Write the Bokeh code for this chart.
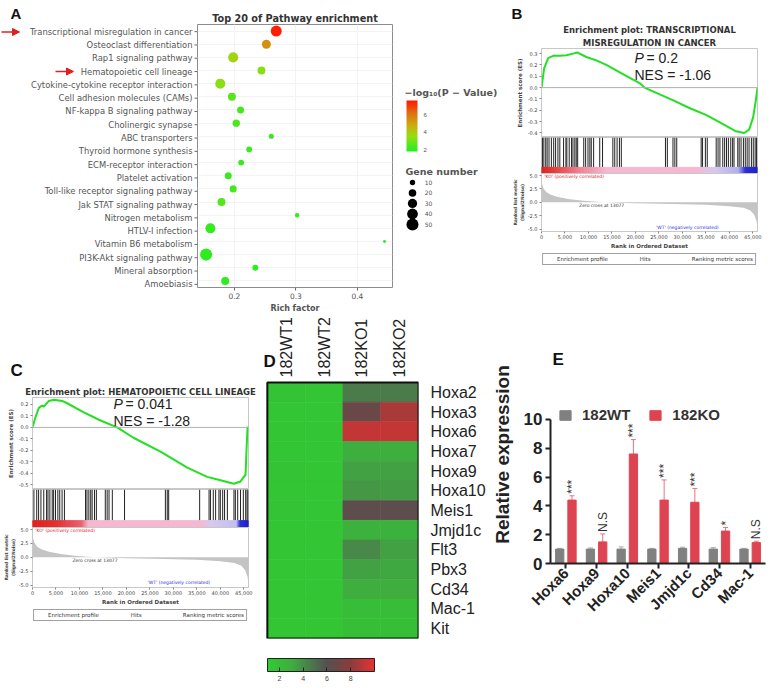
import math
from bokeh.plotting import figure
from bokeh.layouts import row, column
from bokeh.models import (ColumnDataSource, Range1d, FactorRange, LinearColorMapper, ColorBar,
                          FixedTicker, Label, Arrow, NormalHead, Legend, LegendItem, Whisker, Span,
                          NumeralTickFormatter, TeeHead, Title)
from bokeh.transform import dodge
from bokeh.core.properties import value
from bokeh.embed import file_html
from bokeh.resources import INLINE

# ---------------- Panel A data ----------------
pathways = ["Transcriptional misregulation in cancer", "Osteoclast differentiation", "Rap1 signaling pathway",
            "Hematopoietic cell lineage", "Cytokine-cytokine receptor interaction", "Cell adhesion molecules (CAMs)",
            "NF-kappa B signaling pathway", "Cholinergic synapse", "ABC transporters", "Thyroid hormone synthesis",
            "ECM-receptor interaction", "Platelet activation", "Toll-like receptor signaling pathway",
            "Jak STAT signaling pathway", "Nitrogen metabolism", "HTLV-I infection", "Vitamin B6 metabolism",
            "PI3K-Akt signaling pathway", "Mineral absorption", "Amoebiasis"]
rich_factor = [0.268, 0.252, 0.198, 0.244, 0.177, 0.196, 0.210, 0.203, 0.260, 0.224,
               0.211, 0.190, 0.198, 0.179, 0.302, 0.161, 0.444, 0.154, 0.234, 0.185]
neg_log10_p = [7.5, 5.4, 3.8, 3.3, 3.3, 2.6, 2.3, 2.4, 2.2, 2.2,
               2.2, 2.2, 2.3, 2.5, 2.0, 2.1, 2.0, 2.0, 2.0, 2.0]
gene_number = [42, 28, 35, 22, 35, 22, 17, 19, 9, 12, 12, 17, 17, 22, 7, 35, 3, 50, 12, 22]
gene_legend = [10, 20, 30, 40, 50]
pval_ticks = [2, 4, 6]
rich_ticks = [0.2, 0.3, 0.4]

# ---------------- GSEA data (panel B) ----------------
B_es_rank = [0, 566, 1415, 2477, 3892, 5308, 6723, 7572, 9554, 11677, 13800, 17339, 20877, 21940,
             27950, 31490, 35030, 38570, 41400, 43170, 44230, 45080, 45650, 46000]
B_es_val = [0.0, 0.17, 0.26, 0.28, 0.28, 0.285, 0.30, 0.31, 0.27, 0.24, 0.20, 0.12, 0.04, 0.0,
            -0.11, -0.18, -0.24, -0.32, -0.385, -0.40, -0.37, -0.26, -0.11, 0.0]
B_hits = [200, 500, 900, 1200, 1600, 2100, 2600, 3000, 3500, 3900, 4700, 5200, 5400, 5900, 6400, 6700,
          7100, 7400, 7700, 9000, 9400, 9900, 10300, 10600, 11100, 12400, 13000, 15200, 15600, 16100,
          16600, 17000, 26400, 26800, 28000, 28400, 28800, 34000, 34300, 34900, 35300, 37200, 37600,
          38000, 38600, 39000, 39400, 39800, 40300, 40700, 41000, 41800, 42100, 42500, 43000, 43400,
          43800, 44200, 44700, 45100, 45500, 45800]
B_band_rank = [0, 3000, 8000, 14000, 33000, 37000, 42000, 43500, 46000]
B_band_col = ["#e01e1e", "#e84040", "#f08090", "#f5b8d0", "#f5b8d0", "#d8c8f0", "#b0b0f0", "#3030d8", "#2020c8"]
B_title = ["Enrichment plot: TRANSCRIPTIONAL", "MISREGULATION IN CANCER"]
B_p = "= 0.2"
B_nes = "NES = -1.06"

# ---------------- GSEA data (panel C) ----------------
C_es_rank = [0, 640, 1350, 2060, 2420, 3480, 4540, 6320, 7380, 10930, 14480, 18030, 21500, 27260,
             32960, 37200, 40040, 42880, 44300, 45370, 45580, 45800, 46000]
C_es_val = [0.0, 0.09, 0.17, 0.19, 0.18, 0.23, 0.24, 0.23, 0.21, 0.13, 0.06, 0.0, -0.09, -0.21,
            -0.35, -0.43, -0.46, -0.49, -0.47, -0.41, -0.19, 0.0, 0.0]
C_hits = [300, 900, 1300, 1800, 2400, 3000, 3300, 3700, 4200, 4500, 4900, 5400, 5800, 6300, 6800,
          11300, 11600, 12000, 12400, 12700, 13200, 13600, 15500, 15900, 16300, 17000, 19600, 28300,
          28700, 29000, 35600, 37600, 37900, 38500, 39000, 39700, 40000, 40500, 40900, 41500, 42900,
          43200, 43700, 44300, 44900, 45400, 45700, 45900]
C_band_rank = [0, 5000, 10500, 12000, 36000, 38000, 43500, 44300, 46000]
C_band_col = ["#e01e1e", "#e43030", "#ec6070", "#f5b8d0", "#f5b8d0", "#d8c8f0", "#c0c0f0", "#3030d8", "#2020c8"]
C_title = ["Enrichment plot: HEMATOPOIETIC CELL LINEAGE"]
C_p = "= 0.041"
C_nes = "NES = -1.28"

# ranked list metric (shared shape)
metric_rank = [0, 100, 400, 1000, 2000, 3500, 6000, 9000, 13077, 20000, 28000, 35000, 40000, 43000,
               44500, 45300, 45800, 46000]
metric_val = [4.6, 3.5, 2.6, 1.9, 1.4, 1.0, 0.6, 0.3, 0.0, -0.15, -0.3, -0.45, -0.7, -1.0,
              -1.5, -2.3, -3.5, -4.8]
rank_ticks = [0, 5000, 10000, 15000, 20000, 25000, 30000, 35000, 40000, 45000]
metric_ticks = [-5, -2.5, 0, 2.5, 5]

# ---------------- Panel D data ----------------
heat_genes = ["Hoxa2", "Hoxa3", "Hoxa6", "Hoxa7", "Hoxa9", "Hoxa10", "Meis1", "Jmjd1c", "Flt3", "Pbx3",
              "Cd34", "Mac-1", "Kit"]
samples = ["182WT1", "182WT2", "182KO1", "182KO2"]
WT1 = [1.6, 1.5, 1.5, 1.5, 1.6, 1.5, 1.6, 1.5, 1.5, 1.5, 1.5, 1.5, 1.5]
WT2 = [1.5, 1.5, 1.5, 1.5, 1.5, 1.5, 1.5, 1.5, 1.5, 1.5, 1.5, 1.5, 1.5]
KO1 = [4.6, 6.8, 9.2, 2.9, 3.4, 3.8, 6.3, 2.8, 4.2, 3.4, 3.0, 2.0, 1.9]
KO2 = [4.6, 8.6, 9.2, 2.9, 3.4, 3.6, 6.3, 2.8, 3.4, 3.2, 3.0, 2.0, 1.9]
heat_ticks = [2, 4, 6, 8]

# ---------------- Panel E data ----------------
genes_e = ["Hoxa6", "Hoxa9", "Hoxa10", "Meis1", "Jmjd1c", "Cd34", "Mac-1"]
wt_mean = [1.0, 1.0, 1.0, 1.0, 1.05, 1.0, 1.0]
wt_err = [0.05, 0.08, 0.15, 0.05, 0.08, 0.1, 0.05]
ko_mean = [4.4, 1.5, 7.6, 4.4, 4.25, 2.25, 1.45]
ko_err = [0.3, 0.55, 1.0, 1.4, 0.95, 0.25, 0.1]
sig = ["***", "N.S", "***", "***", "***", "*", "N.S"]
expr_ticks = [0, 2, 4, 6, 8, 10]


# ---------------- helpers ----------------
def hex2rgb(h):
    h = h.lstrip('#')
    return tuple(int(h[i:i + 2], 16) for i in (0, 2, 4))


def mix(c0, c1, f):
    a, b = hex2rgb(c0), hex2rgb(c1)
    return '#%02x%02x%02x' % tuple(round(a[k] + (b[k] - a[k]) * f) for k in range(3))


def make_palette(stops, n=128):
    out = []
    for i in range(n):
        t = i / (n - 1)
        for (p0, c0), (p1, c1) in zip(stops[:-1], stops[1:]):
            if p0 <= t <= p1:
                out.append(mix(c0, c1, (t - p0) / (p1 - p0)))
                break
    return out


SMALL = "DejaVu Sans"
ARIAL = "Liberation Sans"


def screen_label(p, text, x, y, size, style="bold", font=ARIAL, color="#111", align="left"):
    p.add_layout(Label(x=x, y=y, x_units="screen", y_units="screen", text=text, text_font=font,
                       text_font_size=size, text_font_style=style, text_color=color,
                       text_baseline="middle", text_align=align))


def style_small_axis(a):
    a.major_label_text_font_size = "5px"
    a.major_label_text_font = SMALL
    a.major_label_text_color = "#444"
    a.axis_label_text_font_size = "5.5px"
    a.axis_label_text_font = SMALL
    a.axis_label_text_font_style = "bold"
    a.axis_label_text_color = "#444"
    a.axis_label_standoff = 2
    a.major_label_standoff = 2
    a.major_tick_out = 2
    a.major_tick_in = 0
    a.minor_tick_out = 0
    a.minor_tick_in = 0
    a.axis_line_color = "#c8c8c8"
    a.major_tick_line_color = "#888"


def gsea(es_rank, es_val, hits, band_rank, band_col, es_lo, es_hi, es_ticks, width, left, right,
         es_top, es_h, hits_h, band_frac, m_h, m_bottom, texts, titles, letter_txt, letter_off,
         letter_size, letter_standoff):
    xr = Range1d(0, 46000)
    common = dict(output_backend="svg", toolbar_location=None, min_border_left=left,
                  min_border_right=right, x_range=xr)
    pe = figure(width=width, height=es_top + es_h, y_range=Range1d(es_lo, es_hi), x_axis_location=None,
                min_border_top=es_top, min_border_bottom=0, **common)
    pe.grid.visible = False
    pe.outline_line_color = "#c8c8c8"
    pe.add_layout(Span(location=0, dimension="width", line_color="#b0b0b0", line_width=1))
    pe.line(es_rank, es_val, line_color="#22e022", line_width=2)
    ya = pe.yaxis[0]
    ya.ticker = FixedTicker(ticks=es_ticks)
    ya.formatter = NumeralTickFormatter(format="0.0")
    ya.axis_label = "Enrichment score (ES)"
    style_small_axis(ya)
    for t in reversed(titles):
        pe.add_layout(Title(text=t, align="center", text_font=SMALL, text_font_size="8.5px",
                            text_font_style="bold", text_color="#333", standoff=1), "above")
    pe.add_layout(Title(text=letter_txt, align="left", offset=letter_off, text_font=ARIAL,
                        text_font_size=letter_size, text_font_style="bold", text_color="#111",
                        standoff=letter_standoff), "above")

    ph = figure(width=width, height=hits_h, y_range=Range1d(0, 1), x_axis_location=None,
                y_axis_location=None, min_border_top=0, min_border_bottom=0, **common)
    ph.grid.visible = False
    ph.outline_line_color = "#c8c8c8"
    ph.segment(x0=hits, y0=band_frac, x1=hits, y1=1, line_color="#222", line_width=1)
    lefts, rights, cols = [], [], []
    for (r0, c0), (r1, c1) in zip(zip(band_rank[:-1], band_col[:-1]), zip(band_rank[1:], band_col[1:])):
        k = 10
        for i in range(k):
            lefts.append(r0 + (r1 - r0) * i / k)
            rights.append(r0 + (r1 - r0) * (i + 1) / k)
            cols.append(mix(c0, c1, (i + 0.5) / k))
    ph.quad(left=lefts, right=rights, bottom=0, top=band_frac, fill_color=cols, line_color=cols)

    pm = figure(width=width, height=m_h + m_bottom, y_range=Range1d(-5.4, 5.35),
                min_border_top=0, min_border_bottom=m_bottom, **common)
    pm.grid.visible = False
    pm.outline_line_color = "#c8c8c8"
    pm.varea(x=metric_rank, y1=0, y2=metric_val, fill_color="#c4c4c4")
    pm.yaxis.ticker = FixedTicker(ticks=metric_ticks)
    pm.yaxis.formatter = NumeralTickFormatter(format="0.0")
    pm.xaxis.ticker = FixedTicker(ticks=rank_ticks)
    pm.xaxis.formatter = NumeralTickFormatter(format="0,0")
    pm.xaxis.axis_label = "Rank in Ordered Dataset"
    for a in list(pm.yaxis) + list(pm.xaxis):
        style_small_axis(a)
    pm.xaxis.axis_label_standoff = 1
    pm.xaxis.major_label_standoff = 1
    for t in ["(Signal2Noise)", "Ranked list metric"]:
        pm.add_layout(Title(text=t, align="center", text_font=SMALL, text_font_size="4.5px",
                            text_font_style="bold", text_color="#444", standoff=0), "left")
    pm.add_layout(Label(x=texts["pos"][0], y=texts["pos"][1], text="'KO' (positively correlated)",
                        text_color="#e02020", text_font_size="4.5px", text_font=SMALL,
                        text_baseline="middle"))
    pm.add_layout(Label(x=texts["zero"][0], y=texts["zero"][1], text="Zero cross at 13077",
                        text_color="#333", text_font_size="4.5px", text_font=SMALL,
                        text_baseline="middle"))
    pm.add_layout(Label(x=texts["neg"][0], y=texts["neg"][1], text="'WT' (negatively correlated)",
                        text_color="#3030e0", text_font_size="4.5px", text_font=SMALL,
                        text_baseline="middle"))

    pl = figure(width=width, height=16, y_range=Range1d(0, 1), x_axis_location=None,
                y_axis_location=None, min_border_top=0, min_border_bottom=0, **common)
    pl.grid.visible = False
    pl.outline_line_color = None
    r1 = pl.line(x=[], y=[], line_color="#22e022", line_width=2)
    r2 = pl.line(x=[], y=[], line_color="#222", line_width=1)
    r3 = pl.varea(x=[], y1=[], y2=[], fill_color="#c4c4c4")
    leg = Legend(items=[LegendItem(label="Enrichment profile", renderers=[r1]),
                        LegendItem(label="Hits", renderers=[r2]),
                        LegendItem(label="Ranking metric scores", renderers=[r3])],
                 orientation="horizontal", location="center", label_text_font_size="5.5px",
                 label_text_font=SMALL, label_text_color="#333", glyph_width=10, glyph_height=6,
                 label_height=6, padding=2, spacing=20, margin=0, border_line_color="#444",
                 label_standoff=2)
    pl.add_layout(leg)
    return column(pe, ph, pm, pl), pe


def stat_text(p, ptxt, nes, x, y1, y2):
    screen_label(p, "P", x, y1, "14px", "italic", color="#222")
    screen_label(p, ptxt, x + 12, y1, "14px", "normal", color="#222")
    screen_label(p, nes, x, y2, "14px", "normal", color="#222")


# ================= Panel A =================
srcA = ColumnDataSource(dict(path=pathways, rf=rich_factor, lp=neg_log10_p, gn=gene_number,
                             sz=[1.7 * math.sqrt(g) for g in gene_number]))
cmapA = LinearColorMapper(palette=make_palette([(0, "#22ee22"), (0.3, "#99dd11"), (0.5, "#c8b010"),
                                                (0.75, "#e07010"), (1, "#ff1a00")]), low=1.8, high=7.6)

# label strip: category names + tick marks, panel letter and arrows
pA0 = figure(width=197, height=315, x_range=Range1d(0, 197),
             y_range=FactorRange(factors=pathways[::-1], range_padding=1.842, range_padding_units="absolute"),
             x_axis_location=None, y_axis_location=None, output_backend="svg", toolbar_location=None,
             min_border=0)
pA0.outline_line_color = None
pA0.grid.visible = False
pA0.text(x=192, y='path', text='path', source=srcA, text_font=value(SMALL), text_font_size="8.4px",
         text_color="#555", text_align="right", text_baseline="middle")
pA0.segment(x0=194, y0='path', x1=197, y1='path', source=srcA, line_color="#666", line_width=1)
screen_label(pA0, "A", 10, 302, "15px")
pA0.add_layout(Arrow(x_start=1, y_start=283.5, x_end=19, y_end=283.5, start_units="screen",
                     end_units="screen", line_color="#e02020", line_width=1.5,
                     end=NormalHead(size=7, fill_color="#e02020", line_color="#e02020")))
pA0.add_layout(Arrow(x_start=55, y_start=244, x_end=73, y_end=244, start_units="screen",
                     end_units="screen", line_color="#e02020", line_width=1.5,
                     end=NormalHead(size=7, fill_color="#e02020", line_color="#e02020")))

pA = figure(width=203, height=315, x_range=Range1d(0.14, 0.457), y_range=FactorRange(factors=pathways[::-1]),
            y_axis_location=None, output_backend="svg", toolbar_location=None, min_border_left=0,
            min_border_right=8, min_border_top=24, min_border_bottom=25, title="Top 20 of Pathway enrichment")
pA.title.align = "center"
pA.title.text_font = SMALL
pA.title.text_font_size = "9.7px"
pA.title.text_color = "#333"
pA.title.standoff = 2
pA.scatter('rf', 'path', size='sz', source=srcA, fill_color={'field': 'lp', 'transform': cmapA},
           line_color=None)
pA.grid.grid_line_color = "#f3f3f3"
pA.outline_line_color = "#8c8c8c"
pA.xaxis.ticker = FixedTicker(ticks=rich_ticks)
pA.xaxis.axis_label = "Rich factor"
for a in pA.xaxis:
    a.major_label_text_font = SMALL
    a.major_label_text_font_size = "7.5px"
    a.major_label_text_color = "#555"
    a.axis_line_color = None
    a.major_tick_out = 3
    a.major_tick_in = 0
    a.minor_tick_out = 0
    a.minor_tick_in = 0
    a.major_tick_line_color = "#666"
    a.major_label_standoff = 2
    a.axis_label_text_font = SMALL
    a.axis_label_text_font_size = "8px"
    a.axis_label_text_font_style = "bold"
    a.axis_label_text_color = "#555"
    a.axis_label_standoff = 2

# legend figure for A
pAL = figure(width=110, height=315, x_range=Range1d(0, 1), y_range=Range1d(136.7, -163.3),
             x_axis_location=None, y_axis_location=None, output_backend="svg", toolbar_location=None,
             min_border=0)
pAL.outline_line_color = None
pAL.grid.visible = False
srcL = ColumnDataSource(dict(gn=gene_legend, sz=[1.7 * math.sqrt(g) for g in gene_legend],
                             lbl=[str(g) for g in gene_legend]))
pAL.scatter(x=0.109, y='gn', size='sz', source=srcL, fill_color="black", line_color=None)
pAL.text(x=0.22, y='gn', text='lbl', source=srcL, text_font=value(SMALL), text_font_size="6px",
         text_color="#555", text_baseline="middle")
screen_label(pAL, "Gene number", 5, 144, "9.5px", font=SMALL, color="#555")
screen_label(pAL, "\u2212log\u2081\u2080(P \u2212 Value)", 4, 223, "9.5px", font=SMALL, color="#555")
cbA = ColorBar(color_mapper=cmapA, location=(6, 164), width=11, height=51, orientation="vertical",
               ticker=FixedTicker(ticks=pval_ticks), padding=0, major_label_text_font_size="6px",
               major_label_text_color="#555", major_tick_line_color=None, bar_line_color=None,
               label_standoff=6, background_fill_alpha=0)
pAL.add_layout(cbA)

# ================= Panel B =================
colB, pBe = gsea(B_es_rank, B_es_val, B_hits, B_band_rank, B_band_col, -0.44, 0.345,
                 [-0.4, -0.3, -0.2, -0.1, 0.0, 0.1, 0.2, 0.3], 263, 30, 16, 48, 89, 36, 0.17, 60, 18,
                 {"pos": (600, 4.8), "zero": (8000, -0.6), "neg": (24400, -4.7)}, B_title,
                 "B", -30, "15px", 1)
stat_text(pBe, B_p, B_nes, 93, 80, 63)

# ================= Panel C =================
colC, pCe = gsea(C_es_rank, C_es_val, C_hits, C_band_rank, C_band_col, -0.54, 0.26,
                 [-0.5, -0.4, -0.3, -0.2, -0.1, 0.0, 0.1, 0.2], 262, 32, 14, 82, 92, 38, 0.18, 63, 17,
                 {"pos": (600, 4.8), "zero": (8500, -0.6), "neg": (24500, -4.5)}, C_title,
                 "C", -22, "17px", 9)
stat_text(pCe, C_p, C_nes, 81, 86, 69)

# ================= Panel D =================
n_s, n_g = len(samples), len(heat_genes)
hx, hy, hv = [], [], []
for gi, g in enumerate(heat_genes):
    for si, vals in enumerate([WT1, WT2, KO1, KO2]):
        hx.append(si + 0.5)
        hy.append(n_g - gi - 0.5)
        hv.append(vals[gi])
cmapD = LinearColorMapper(palette=make_palette([(0, "#30cc30"), (2 / 9, "#3fae3f"), (4 / 9, "#4e6e4e"),
                                                (5 / 9, "#555050"), (7 / 9, "#8c3c3c"), (1, "#e83232")]),
                          low=1, high=10)
pD = figure(width=226, height=372, x_range=Range1d(-5 / 39, n_s), y_range=Range1d(0, 16.4),
            x_axis_location=None, y_axis_location="right",
            output_backend="svg", toolbar_location=None, min_border_left=0, min_border_right=65,
            min_border_top=0, min_border_bottom=49)
pD.rect(x='x', y='y', width=1, height=1, fill_color={'field': 'v', 'transform': cmapD},
        line_color={'field': 'v', 'transform': cmapD}, line_width=0.6,
        source=ColumnDataSource(dict(x=hx, y=hy, v=hv)))
pD.quad(left=0, right=n_s, bottom=0, top=n_g, fill_color=None, line_color="#111", line_width=2)
pD.text(x=[i + 0.5 for i in range(n_s)], y=n_g, text=samples, angle=math.pi / 2, y_offset=-5,
        text_align="left", text_baseline="middle", text_font=value(ARIAL), text_font_size="16px",
        text_color="#222")
pD.grid.visible = False
pD.outline_line_color = None
ayD = pD.yaxis[0]
ayD.ticker = FixedTicker(ticks=[n_g - gi - 0.5 for gi in range(n_g)])
ayD.major_label_overrides = {n_g - gi - 0.5: g for gi, g in enumerate(heat_genes)}
ayD.axis_line_color = None
ayD.major_tick_line_color = None
ayD.minor_tick_line_color = None
ayD.major_label_text_font = ARIAL
ayD.major_label_text_font_size = "16px"
ayD.major_label_text_color = "#222"
ayD.major_label_standoff = 6
screen_label(pD, "D", 1, 277, "17px")
cbD = ColorBar(color_mapper=cmapD, location=(5, -45), width=107, height=13, orientation="horizontal",
               ticker=FixedTicker(ticks=heat_ticks), padding=0, major_label_text_font_size="7px",
               major_label_text_color="#444", major_tick_line_color="#222", major_tick_in=4,
               bar_line_color="#222", label_standoff=4, background_fill_alpha=0)
pD.add_layout(cbD)

# ================= Panel E =================
srcE = ColumnDataSource(dict(gene=genes_e, wt=wt_mean, ko=ko_mean,
                             wt_lo=[m - e for m, e in zip(wt_mean, wt_err)],
                             wt_hi=[m + e for m, e in zip(wt_mean, wt_err)],
                             ko_lo=[m - e for m, e in zip(ko_mean, ko_err)],
                             ko_hi=[m + e for m, e in zip(ko_mean, ko_err)],
                             sig=sig))
pE = figure(width=285, height=372, x_range=FactorRange(factors=genes_e, range_padding=0),
            y_range=Range1d(0, 15.13), output_backend="svg", toolbar_location=None,
            min_border_left=57, min_border_right=8, min_border_top=30, min_border_bottom=124)
pE.grid.visible = False
pE.outline_line_color = None
wt_bar = pE.vbar(x=dodge('gene', -0.2, range=pE.x_range), top='wt', width=0.27, source=srcE,
                 fill_color="#808080", line_color="#808080")
ko_bar = pE.vbar(x=dodge('gene', 0.2, range=pE.x_range), top='ko', width=0.27, source=srcE,
                 fill_color="#dc4452", line_color="#e8404e")
pE.add_layout(Whisker(base=dodge('gene', -0.2, range=pE.x_range), upper='wt_hi', lower='wt_lo', source=srcE,
                      line_color="#aaaaaa", level="underlay",
                      upper_head=TeeHead(size=5, line_color="#aaaaaa"), lower_head=None))
pE.add_layout(Whisker(base=dodge('gene', 0.2, range=pE.x_range), upper='ko_hi', lower='ko_lo', source=srcE,
                      line_color="#f07080", level="underlay",
                      upper_head=TeeHead(size=5, line_color="#f07080"), lower_head=None))
pE.text(x=dodge('gene', 0.2, range=pE.x_range), y='ko_hi', text='sig', source=srcE, angle=math.pi / 2,
        text_align="left", text_baseline="middle", text_font=value(ARIAL), text_font_size="12px",
        text_color="#333", x_offset=0, y_offset=-2)
pE.yaxis.ticker = FixedTicker(ticks=expr_ticks)
pE.yaxis.bounds = (0, 10)
pE.yaxis.axis_label = "Relative expression"
pE.xaxis.major_label_orientation = math.pi / 4
for a in list(pE.xaxis) + list(pE.yaxis):
    a.axis_line_width = 2
    a.axis_line_color = "#222"
    a.major_tick_line_width = 2
    a.major_tick_line_color = "#222"
    a.major_tick_out = 5
    a.major_tick_in = 0
    a.minor_tick_out = 0
    a.minor_tick_in = 0
    a.major_label_text_font = ARIAL
    a.major_label_text_font_style = "bold"
    a.major_label_text_color = "#222"
    a.axis_label_text_font = ARIAL
    a.axis_label_text_font_style = "bold"
    a.axis_label_text_color = "#222"
pE.yaxis.major_label_text_font_size = "17px"
pE.yaxis.axis_label_text_font_size = "19px"
pE.yaxis.axis_label_standoff = 8
pE.yaxis.major_label_standoff = 3
pE.xaxis.major_label_text_font_size = "15px"
pE.xaxis.major_label_standoff = 2
legE = Legend(items=[LegendItem(label="182WT", renderers=[wt_bar]), LegendItem(label="182KO", renderers=[ko_bar])],
              orientation="horizontal", location=(8, 140), label_text_font=ARIAL, label_text_font_size="15px",
              label_text_font_style="bold", label_text_color="#333", glyph_width=14, glyph_height=12,
              background_fill_alpha=0, border_line_color=None, padding=0, margin=0, spacing=18,
              label_standoff=10)
pE.add_layout(legE)
screen_label(pE, "E", 2, 204, "17px")

layout = column(row(column(pA0), column(pA), column(pAL), colB),
                row(colC, column(pD), column(pE)))
open("out.html", "w").write(file_html(layout, INLINE))
